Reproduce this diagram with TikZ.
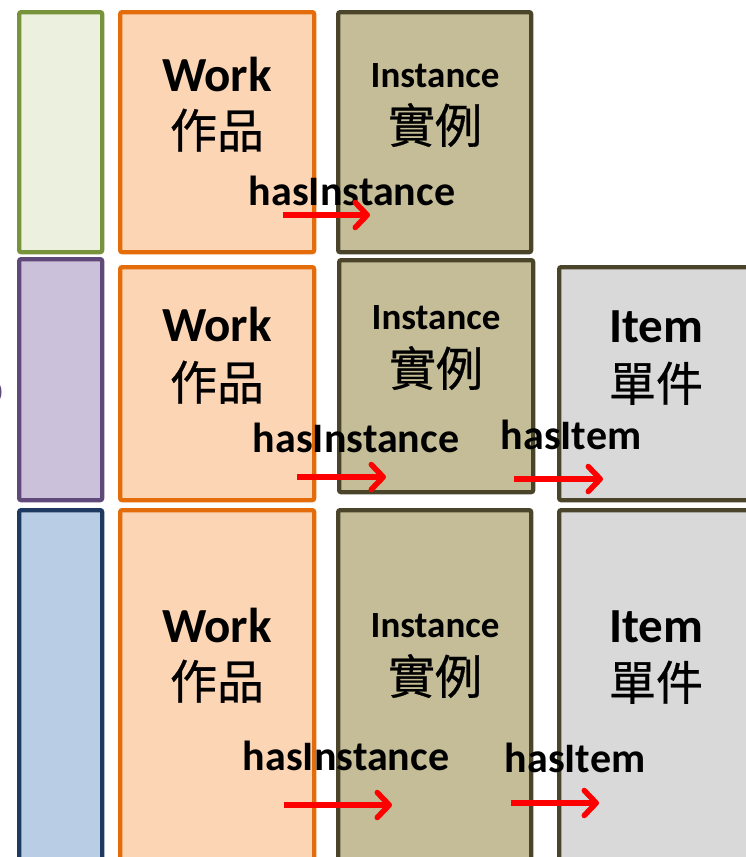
\documentclass[tikz,border=0pt]{standalone}
\usepackage{fontspec}
\setmainfont{Carlito}
\newfontfamily\cjk{Noto Sans CJK TC}[FakeBold=0.6]
\usetikzlibrary{arrows.meta}
\definecolor{grnS}{HTML}{77933C}
\definecolor{grnF}{HTML}{EBF1DE}
\definecolor{purS}{HTML}{5F497A}
\definecolor{purF}{HTML}{CCC1DA}
\definecolor{bluS}{HTML}{1F3A60}
\definecolor{bluF}{HTML}{B9CDE5}
\definecolor{orgS}{HTML}{E46C0A}
\definecolor{orgF}{HTML}{FCD5B5}
\definecolor{oliS}{HTML}{4A452A}
\definecolor{oliF}{HTML}{C4BD97}
\definecolor{gryF}{HTML}{D9D9D9}
\tikzset{
  box/.style={draw, line width=4.3pt, rounded corners=2pt, anchor=north west, inner sep=0pt},
  bigtxt/.style={font=\fontsize{49}{50}\selectfont\bfseries, anchor=base, inner sep=0pt},
  insttxt/.style={font=\fontsize{37}{40}\selectfont\bfseries, anchor=base, inner sep=0pt},
  cjktxt/.style={font=\cjk\fontsize{47}{50}\selectfont, anchor=base, inner sep=0pt},
  reltxt/.style={font=\fontsize{42}{44}\selectfont\bfseries, anchor=base, inner sep=0pt},
  relarrow/.style={draw=red, line width=5.5pt, -{Straight Barb[length=12pt,width=25pt,line cap=round,line join=round]}}
}
\begin{document}
\begin{tikzpicture}[x=1pt,y=-1pt]
\useasboundingbox (0,0) rectangle (746,857);
\clip (0,0) rectangle (746,857);
% row 1
\node[box, draw=grnS, fill=grnF, minimum width=83pt, minimum height=240pt] (g1) at (17,10) {};
\node[box, draw=orgS, fill=orgF, minimum width=194pt, minimum height=240pt] (w1) at (118,10) {};
\node[box, draw=oliS, fill=oliF, minimum width=193pt, minimum height=240pt] (i1) at (336,10) {};
% row 2
\node[box, draw=purS, fill=purF, minimum width=83pt, minimum height=241pt] (p2) at (17,257) {};
\node[box, draw=orgS, fill=orgF, minimum width=194pt, minimum height=233pt] (w2) at (118,265) {};
\node[box, draw=oliS, fill=oliF, minimum width=194pt, minimum height=232pt] (i2) at (337,258) {};
\node[box, draw=oliS, fill=gryF, minimum width=220pt, minimum height=233pt] (t2) at (557,265) {};
% row 3
\node[box, draw=bluS, fill=bluF, minimum width=83pt, minimum height=380pt] (b3) at (17,508) {};
\node[box, draw=orgS, fill=orgF, minimum width=194pt, minimum height=380pt] (w3) at (118,508) {};
\node[box, draw=oliS, fill=oliF, minimum width=193pt, minimum height=380pt] (i3) at (336,508) {};
\node[box, draw=oliS, fill=gryF, minimum width=220pt, minimum height=380pt] (t3) at (557,508) {};
% partial shape at left edge
\draw[purS, line width=3pt] (-16,392) circle (16);
% texts row 1
\node[bigtxt] (w1a) at (217,91) {Work};
\node[cjktxt] (w1b) at (217,148) {作品};
\node[insttxt] (i1a) at (435,87) {Instance};
\node[cjktxt] (i1b) at (435,143) {實例};
\node[reltxt] (r1) at (352,205) {hasInstance};
% texts row 2
\node[bigtxt] (w2a) at (217,341) {Work};
\node[cjktxt] (w2b) at (217,400) {作品};
\node[insttxt] (i2a) at (436,329) {Instance};
\node[cjktxt] (i2b) at (436,386) {實例};
\node[bigtxt] (t2a) at (656,342) {Item};
\node[cjktxt] (t2b) at (656,401) {單件};
\node[reltxt] (r2) at (356,452) {hasInstance};
\node[reltxt] (s2) at (571,449) {hasItem};
% texts row 3
\node[bigtxt] (w3a) at (217,642) {Work};
\node[cjktxt] (w3b) at (217,699) {作品};
\node[insttxt] (i3a) at (435,637) {Instance};
\node[cjktxt] (i3b) at (435,694) {實例};
\node[bigtxt] (t3a) at (656,642) {Item};
\node[cjktxt] (t3b) at (656,700) {單件};
\node[reltxt] (r3) at (346,770) {hasInstance};
\node[reltxt] (s3) at (575,772) {hasItem};
% arrows
\coordinate (a1s) at (283,215); \coordinate (a1e) at (370,215);
\coordinate (a2s) at (297,477); \coordinate (a2e) at (386,477);
\coordinate (b2s) at (514,479); \coordinate (b2e) at (603,479);
\coordinate (a3s) at (284,805); \coordinate (a3e) at (392,805);
\coordinate (b3s) at (511,803); \coordinate (b3e) at (599,803);
\draw[relarrow] (a1s) -- (a1e);
\draw[relarrow] (a2s) -- (a2e);
\draw[relarrow] (b2s) -- (b2e);
\draw[relarrow] (a3s) -- (a3e);
\draw[relarrow] (b3s) -- (b3e);
\end{tikzpicture}
\end{document}
